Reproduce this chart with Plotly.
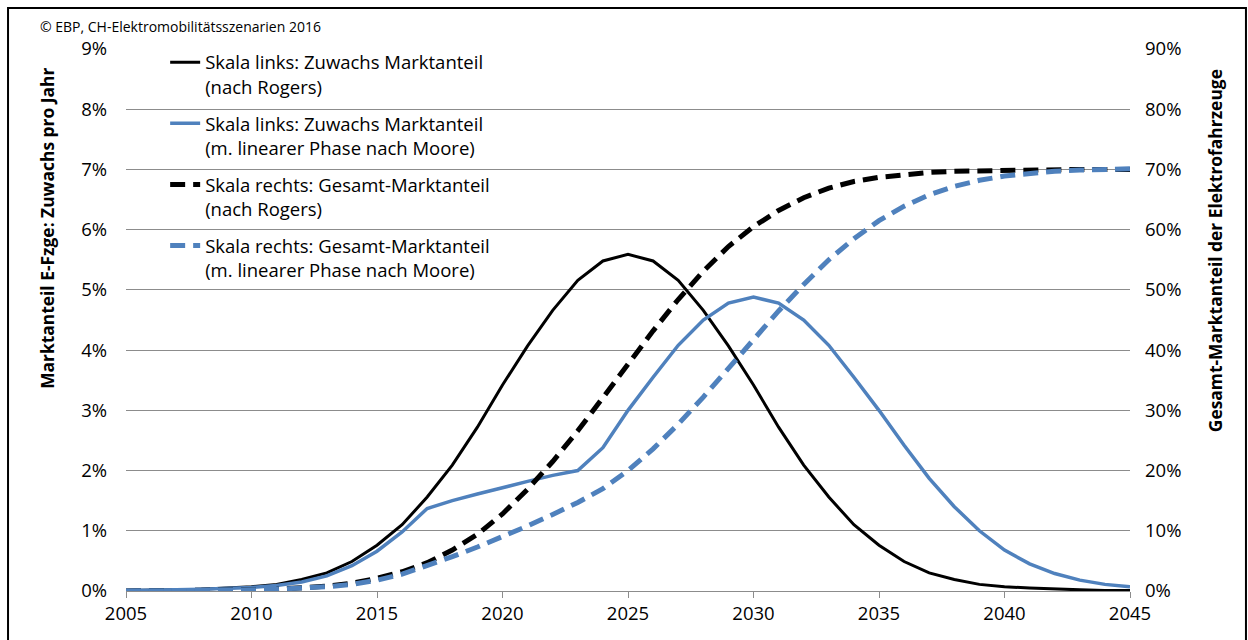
import plotly.graph_objects as go

years = list(range(2005, 2046))

rogers_growth = [0.01, 0.01, 0.02, 0.03, 0.05, 0.07, 0.11, 0.19, 0.30, 0.49,
                 0.76, 1.10, 1.56, 2.09, 2.72, 3.42, 4.07, 4.66, 5.16, 5.48,
                 5.59, 5.48, 5.16, 4.66, 4.07, 3.42, 2.72, 2.09, 1.56, 1.10,
                 0.76, 0.49, 0.30, 0.19, 0.11, 0.07, 0.05, 0.03, 0.02, 0.01, 0.01]

moore_growth = [0.01, 0.01, 0.02, 0.03, 0.04, 0.06, 0.09, 0.15, 0.25, 0.42,
                0.66, 0.98, 1.37, 1.50, 1.61, 1.72, 1.82, 1.92, 2.00, 2.38,
                3.00, 3.55, 4.08, 4.50, 4.78, 4.88, 4.78, 4.50, 4.08, 3.55,
                3.00, 2.42, 1.87, 1.40, 1.00, 0.68, 0.45, 0.29, 0.18, 0.11, 0.07]

rogers_total = [0.0, 0.0, 0.1, 0.1, 0.1, 0.2, 0.3, 0.5, 0.8, 1.3,
                2.1, 3.2, 4.7, 6.8, 9.4, 12.8, 16.9, 21.5, 26.6, 32.1,
                37.7, 43.2, 48.4, 53.1, 57.2, 60.5, 63.2, 65.3, 66.9, 68.0,
                68.7, 69.2, 69.5, 69.7, 69.8, 69.9, 69.9, 69.9, 70.0, 70.0, 70.0]

moore_total = [0.0, 0.0, 0.1, 0.1, 0.1, 0.2, 0.3, 0.4, 0.7, 1.1,
               1.8, 2.8, 4.2, 5.7, 7.3, 9.0, 10.8, 12.7, 14.7, 17.0,
               20.0, 23.6, 27.7, 32.2, 37.0, 41.7, 46.5, 50.9, 55.0, 58.5,
               61.5, 63.9, 65.8, 67.2, 68.2, 68.9, 69.4, 69.7, 69.9, 70.0, 70.1]

names = [
    "Skala links: Zuwachs Marktanteil<br>(nach Rogers)",
    "Skala links: Zuwachs Marktanteil<br>(m. linearer Phase nach Moore)",
    "Skala rechts: Gesamt-Marktanteil<br>(nach Rogers)",
    "Skala rechts: Gesamt-Marktanteil<br>(m. linearer Phase nach Moore)",
]

left_ticks = list(range(0, 10))
left_labels = ["0%", "1%", "2%", "3%", "4%", "5%", "6%", "7%", "8%", "9%"]
right_ticks = list(range(0, 100, 10))
right_labels = ["0%", "10%", "20%", "30%", "40%", "50%", "60%", "70%", "80%", "90%"]
x_ticks = list(range(2005, 2050, 5))

BLACK = "#000000"
BLUE = "#4F81BD"
GRID = "#8C8C8C"
FONT = "Open Sans"
TICK_SIZE = 18.5

fig = go.Figure()
fig.add_trace(go.Scatter(x=years, y=rogers_growth, name=names[0], mode="lines",
                         line=dict(color=BLACK, width=3), legendgroup="g1"))
fig.add_trace(go.Scatter(x=years, y=moore_growth, name=names[1], mode="lines",
                         line=dict(color=BLUE, width=3.5), legendgroup="g2"))
fig.add_trace(go.Scatter(x=years, y=rogers_total, name=names[2], mode="lines", yaxis="y2",
                         line=dict(color=BLACK, width=5, dash="15px,8px"), legendgroup="g3"))
fig.add_trace(go.Scatter(x=years, y=moore_total, name=names[3], mode="lines", yaxis="y2",
                         line=dict(color=BLUE, width=5, dash="15px,8px"), legendgroup="g4"))

fig.update_layout(
    width=1248, height=640,
    margin=dict(l=126, r=118, t=49, b=49),
    paper_bgcolor="white", plot_bgcolor="white",
    font=dict(family=FONT, size=18.5, color="#000000"),
    showlegend=True,
    legend=dict(x=0.039, y=1.0097, xanchor="left", yanchor="top",
                bgcolor="rgba(0,0,0,0)", font=dict(size=18.5),
                valign="top", tracegroupgap=10, traceorder="grouped"),
    xaxis=dict(range=[2005, 2045], tickvals=x_ticks, showgrid=False, zeroline=False,
               showline=True, linecolor=GRID, linewidth=1.3,
               ticks="outside", ticklen=6, tickcolor=GRID, tickwidth=1.3,
               tickfont=dict(size=TICK_SIZE)),
    yaxis=dict(range=[0, 9], tickvals=left_ticks, ticktext=left_labels, showgrid=True,
               gridcolor=GRID, gridwidth=1.3, zeroline=False, showline=False,
               ticklabelstandoff=18, tickfont=dict(size=TICK_SIZE)),
    yaxis2=dict(range=[0, 90], tickvals=right_ticks, ticktext=right_labels, overlaying="y",
                side="right", showgrid=False, zeroline=False, showline=False,
                ticklabelstandoff=14, tickfont=dict(size=TICK_SIZE)),
    annotations=[
        dict(text="<b>Marktanteil E-Fzge: Zuwachs pro Jahr</b>", xref="paper", yref="paper",
             x=-0.0787, y=0.67, textangle=-90, showarrow=False, font=dict(size=17.4),
             xanchor="center", yanchor="middle"),
        dict(text="<b>Gesamt-Marktanteil der Elektrofahrzeuge</b>", xref="paper", yref="paper",
             x=1.0847, y=0.627, textangle=-90, showarrow=False, font=dict(size=17.4),
             xanchor="center", yanchor="middle"),
        dict(text="© EBP, CH-Elektromobilitätsszenarien 2016", xref="paper", yref="paper",
             x=-0.0876, y=1.0406, showarrow=False, font=dict(size=14),
             xanchor="left", yanchor="middle"),
    ],
    shapes=[
        dict(type="rect", xref="paper", yref="paper", x0=-0.1175, x1=1.1155,
             y0=-0.15, y1=1.0756, line=dict(color="#000000", width=2),
             fillcolor="rgba(0,0,0,0)", layer="above"),
    ],
)

fig.write_html("out.html", config={"displayModeBar": False},
               post_script="document.body.style.margin='0';document.body.style.overflow='hidden';")
